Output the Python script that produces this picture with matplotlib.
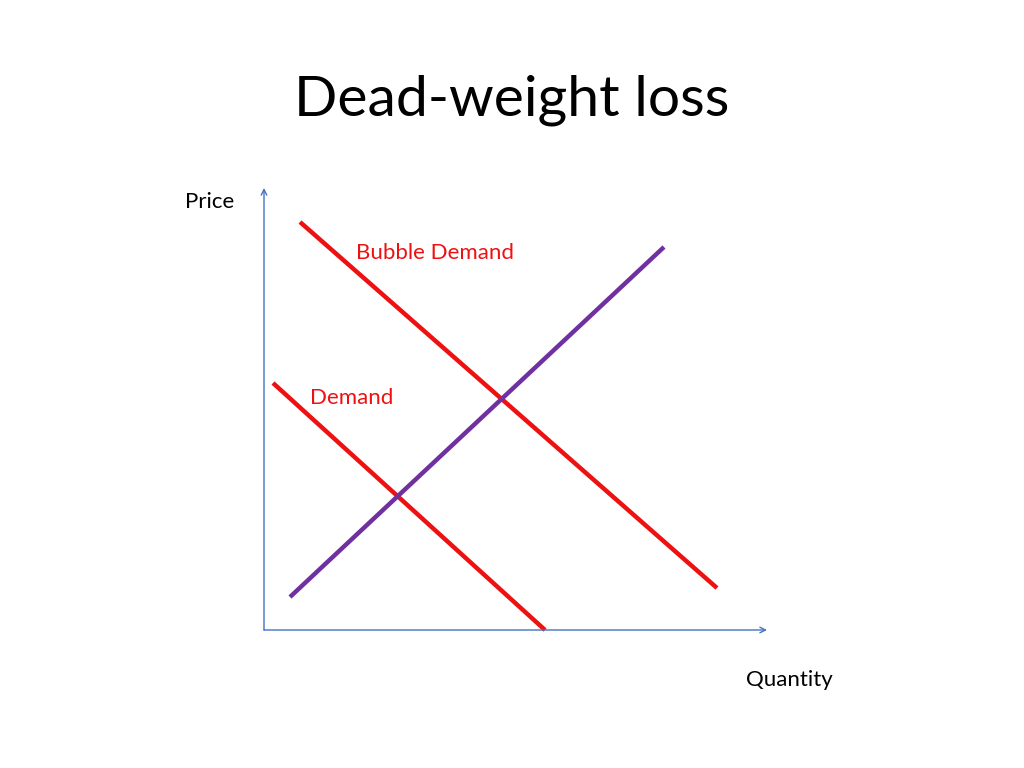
import matplotlib
matplotlib.use("Agg")
import matplotlib.pyplot as plt

# Line endpoints in chart units (origin at axis corner)
bubble_x = [36, 453]; bubble_y = [408, 42]
demand_x = [9, 281]; demand_y = [247, 0]
supply_x = [26, 400]; supply_y = [33, 383]
title = "Dead-weight loss"

plt.rcParams['font.family'] = ['Lato', 'DejaVu Sans']
fig = plt.figure(figsize=(10.24, 7.68), dpi=100)
ax = fig.add_axes([0, 0, 1, 1])
ax.set_xlim(-264, 760); ax.set_ylim(-138, 630)
ax.axis('off')

ax.plot(bubble_x, bubble_y, color='#ee1111', lw=3.2, solid_capstyle='butt')
ax.plot(demand_x, demand_y, color='#ee1111', lw=3.2, solid_capstyle='butt')
ax.plot(supply_x, supply_y, color='#7030a0', lw=3.2, solid_capstyle='butt')

ax.annotate('', xy=(0, 442), xytext=(0, 0),
            arrowprops=dict(arrowstyle='->', color='#4472c4', lw=1, shrinkA=0, shrinkB=0))
ax.annotate('', xy=(503, 0), xytext=(0, 0),
            arrowprops=dict(arrowstyle='->', color='#4472c4', lw=1, shrinkA=0, shrinkB=0))

ax.text(248, 530, title, ha='center', va='center', fontsize=41)
ax.text(-54, 428, 'Price', ha='center', va='center', fontsize=16)
ax.text(525, -50, 'Quantity', ha='center', va='center', fontsize=16)
ax.text(171, 377, 'Bubble Demand', ha='center', va='center', fontsize=16, color='#ee1111')
ax.text(88, 232, 'Demand', ha='center', va='center', fontsize=16, color='#ee1111')

fig.savefig('out.png', dpi=100)
